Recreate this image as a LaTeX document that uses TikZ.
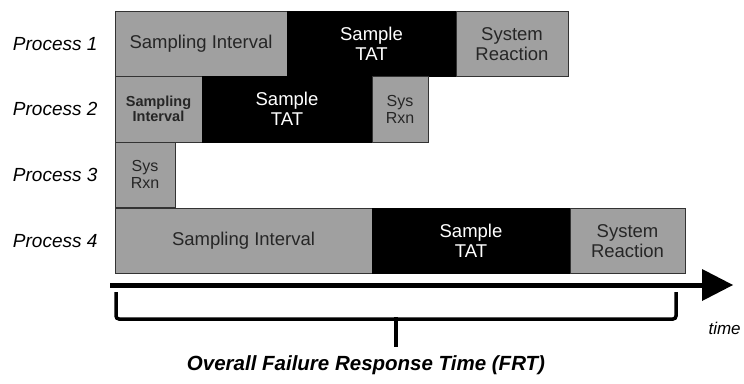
\documentclass[tikz,border=0pt]{standalone}
\usepackage{fontspec}
\setmainfont{Liberation Sans}
\usetikzlibrary{positioning}
\definecolor{boxgray}{HTML}{A0A0A0}
\tikzset{
  seg/.style={anchor=north west, inner sep=0pt, outer sep=0pt, minimum height=65.5pt, align=center, font=\fontsize{18.5}{20}\selectfont},
  graybox/.style={seg, fill=boxgray, draw=black!80, line width=0.8pt, text=black!85},
  blackbox/.style={seg, fill=black, draw=black, line width=0.8pt, text=white},
  smalltext/.style={font=\fontsize{14.5}{15}\selectfont\bfseries},
  proc/.style={anchor=east, font=\fontsize{19}{20}\selectfont\itshape},
  axisline/.style={line width=5pt},
  bracket/.style={line width=3.5pt, rounded corners=3pt}
}
\begin{document}
\begin{tikzpicture}[x=1pt,y=-1pt]
\useasboundingbox (0,0) rectangle (744,383);
% Process labels
\node[proc] (l1) at (101,44) {Process 1};
\node[proc] (l2) at (101,109) {Process 2};
\node[proc] (l3) at (101,175) {Process 3};
\node[proc] (l4) at (101,241) {Process 4};
% Process 1
\node[graybox, minimum width=172pt] (p1a) at (115,11) {Sampling Interval};
\node[blackbox, minimum width=169pt] (p1b) at (287,11) {Sample\\TAT};
\node[graybox, minimum width=112pt] (p1c) at (456,11) {System\\Reaction};
% Process 2
\node[graybox, minimum width=87pt, smalltext] (p2a) at (115,76.5) {Sampling\\Interval};
\node[blackbox, minimum width=170pt] (p2b) at (202,76.5) {Sample\\TAT};
\node[graybox, minimum width=56pt, font=\fontsize{16}{17}\selectfont] (p2c) at (372,76.5) {Sys\\Rxn};
% Process 3
\node[graybox, minimum width=60pt, font=\fontsize{16}{17}\selectfont] (p3a) at (115,142) {Sys\\Rxn};
% Process 4
\node[graybox, minimum width=257pt] (p4a) at (115,208) {Sampling Interval};
\node[blackbox, minimum width=198pt] (p4b) at (372,208) {Sample\\TAT};
\node[graybox, minimum width=115pt] (p4c) at (570,208) {System\\Reaction};
% time axis
\coordinate (ax0) at (110,285);
\coordinate (ax1) at (703,285);
\draw[axisline] (ax0) -- (ax1);
\fill (702,269) -- (733,285) -- (702,301) -- cycle;
\node[font=\fontsize{17}{18}\selectfont\itshape, anchor=west] (time) at (705,328) {time};
% bracket
\coordinate (bl) at (116,292);
\coordinate (br) at (676,292);
\coordinate (bm) at (396,318);
\draw[bracket] (bl) -- (116,319) -- (676,319) -- (br);
\draw[line width=3.5pt] (396,317) -- (396,347);
\node[font=\fontsize{20.5}{22}\selectfont\bfseries\itshape] (frt) at (366,365) {Overall Failure Response Time (FRT)};
\end{tikzpicture}
\end{document}
